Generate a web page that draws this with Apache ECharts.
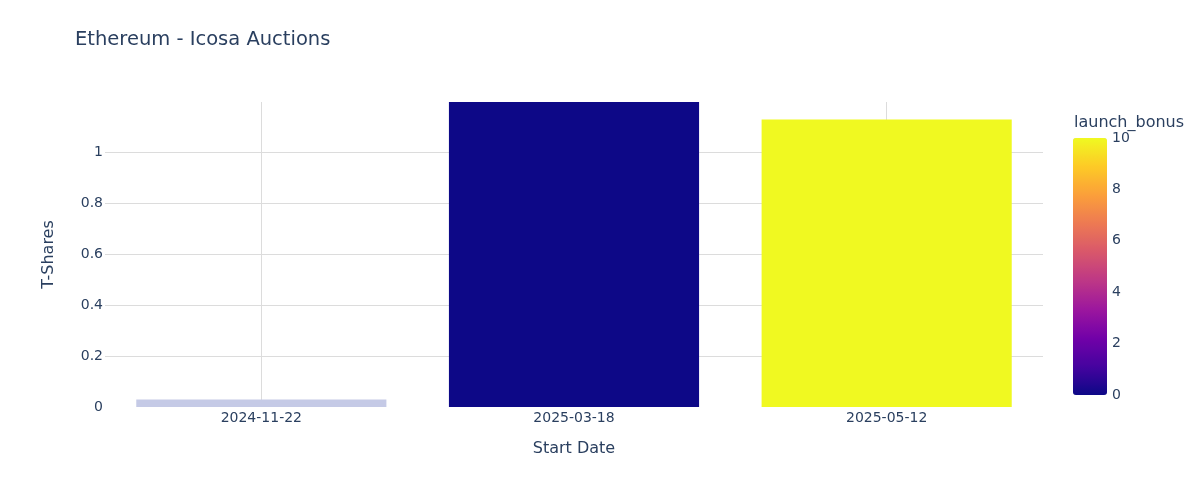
<!DOCTYPE html>
<html>
<head>
<meta charset="utf-8">
<script src="https://cdn.jsdelivr.net/npm/echarts@6/dist/echarts.min.js"></script>
<style>
html,body{margin:0;padding:0;background:#fff;}
#chart{width:1200px;height:482px;}
</style>
</head>
<body>
<div id="chart"></div>
<script>
// Data
var categories = ['2024-11-22', '2025-03-18', '2025-05-12'];
var tShares = [0.029, 1.196, 1.127];
var launchBonus = [null, 0, 10];   // null = no launch_bonus value (drawn in neutral colour)
var yTickMax = 1.196;
var colorbarTicks = [0, 10];

var plasma = ['#0d0887', '#46039f', '#7201a8', '#9c179e', '#bd3786', '#d8576b', '#ed7953', '#fb9f3a', '#fdca26', '#f0f921'];
var font = 'DejaVu Sans';
var txt = '#2a3f5f';
var gridColor = '#dcdcdc';

var mappedData = categories.map(function (c, i) {
  return launchBonus[i] === null ? [c, null, null] : [c, tShares[i], launchBonus[i]];
});
var nanData = categories.map(function (c, i) {
  return launchBonus[i] === null ? tShares[i] : null;
});

var chart = echarts.init(document.getElementById('chart'));
chart.setOption({
  animation: false,
  backgroundColor: '#fff',
  textStyle: { fontFamily: font, color: txt },
  title: [
    { text: 'Ethereum - Icosa Auctions', left: 70, top: 25,
      textStyle: { fontFamily: font, fontSize: 19.5, fontWeight: 'normal', color: txt } },
    { text: 'launch_bonus', left: 1069, top: 110,
      textStyle: { fontFamily: font, fontSize: 16, fontWeight: 'normal', color: txt } }
  ],
  grid: [
    { left: 105, top: 102, width: 938, height: 305 },
    { left: 1073, top: 138, width: 34, height: 257 }
  ],
  xAxis: [
    { type: 'category', data: categories, gridIndex: 0,
      axisLine: { show: false }, axisTick: { show: false },
      splitLine: { show: false },
      axisLabel: { fontFamily: font, fontSize: 14, color: txt, margin: 4 },
      name: 'Start Date', nameLocation: 'middle', nameGap: 34,
      nameTextStyle: { fontFamily: font, fontSize: 16, color: txt } },
    { type: 'value', gridIndex: 1, show: false }
  ],
  yAxis: [
    { type: 'value', gridIndex: 0, min: 0, max: yTickMax, interval: 0.2,
      axisLine: { show: false }, axisTick: { show: false },
      splitLine: { show: true, showMinLine: false, showMaxLine: false, lineStyle: { color: gridColor, width: 1 } },
      axisLabel: { fontFamily: font, fontSize: 14, color: txt, margin: 2, showMaxLabel: false,
        formatter: function (v) { return String(Math.round(v * 10) / 10); } },
      name: 'T-Shares', nameLocation: 'middle', nameGap: 48, nameRotate: 90,
      nameTextStyle: { fontFamily: font, fontSize: 16, color: txt } },
    { type: 'value', gridIndex: 1, min: colorbarTicks[0], max: colorbarTicks[1], interval: 2, position: 'right',
      axisLine: { show: false }, axisTick: { show: false }, splitLine: { show: false },
      axisLabel: { fontFamily: font, fontSize: 14, color: txt, margin: 5 } }
  ],
  visualMap: {
    type: 'continuous', min: colorbarTicks[0], max: colorbarTicks[1], dimension: 2, seriesIndex: 0,
    left: 1073, top: 138, itemWidth: 34, itemHeight: 257, padding: 0,
    calculable: false, text: ['', ''], showLabel: false, orient: 'vertical',
    inRange: { color: plasma }
  },
  series: [
    { type: 'bar', data: mappedData, barWidth: '80%', barGap: '-100%', z: 3,
      encode: { x: 0, y: 1 } },
    { type: 'bar', data: nanData, barWidth: '80%', barGap: '-100%', z: 3,
      itemStyle: { color: '#c5cae6' } },
    { type: 'line', data: [], z: 1, silent: true,
      markLine: { silent: true, z: 0, symbol: ['none', 'none'], label: { show: false },
        lineStyle: { color: gridColor, type: 'solid', width: 1 },
        data: categories.map(function (c) { return { xAxis: c }; }) } }
  ]
});
</script>
</body>
</html>
